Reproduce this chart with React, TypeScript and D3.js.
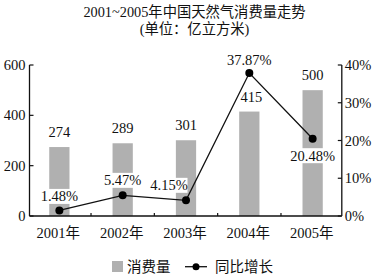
import React from "react";
import * as d3 from "d3";

const categories = ["2001年", "2002年", "2003年", "2004年", "2005年"];
const consumption = [274, 289, 301, 415, 500];
const growth = [1.48, 5.47, 4.15, 37.87, 20.48];
const leftTicks = [0, 200, 400, 600];
const rightTicks = [0, 10, 20, 30, 40];
const title1 = "2001~2005年中国天然气消费量走势";
const title2 = "(单位：亿立方米)";
const legendBar = "消费量";
const legendLine = "同比增长";

// label placement offsets (style, not data)
const pctOffsets: [number, number][] = [
  [0, -14],
  [0, -15],
  [-17, -15],
  [0, -13],
  [0, 17],
];

const W = 377;
const H = 275;
const FONT = "\"Liberation Serif\", \"DejaVu Serif\", \"Noto Sans CJK SC\", serif";

export default function App() {
  const x = d3.scaleBand<string>().domain(categories).range([27.7, 344.3]).paddingInner(0.68).paddingOuter(0.34);
  const yL = d3.scaleLinear().domain([0, 600]).range([216, 65]);
  const yR = d3.scaleLinear().domain([0, 40]).range([216, 65]);
  const axL = 29.5;
  const axR = 341.8;
  const cx = (c: string) => (x(c) as number) + x.bandwidth() / 2;
  const step = x.step();
  const line = d3
    .line<number>()
    .x((_, i) => cx(categories[i]))
    .y((d) => yR(d));
  const fmtPct = (v: number) => v.toFixed(2) + "%";
  const boundaries = categories.slice(1).map((c) => (x(c) as number) - (step - x.bandwidth()) / 2);

  return (
    <svg
      width={W}
      height={H}
      style={{ position: "absolute", left: 0, top: 0, background: "#fff", fontFamily: FONT }}
    >
      <rect x={0} y={0} width={W} height={H} fill="#fff" />
      <text x={W / 2 + 6} y={17} textAnchor="middle" fontSize={14.3} fill="#111">
        {title1}
      </text>
      <text x={W / 2 + 6} y={34} textAnchor="middle" fontSize={14.3} fill="#111">
        {title2}
      </text>

      {/* bars */}
      {consumption.map((v, i) => (
        <rect
          key={"b" + i}
          x={x(categories[i])}
          y={yL(v)}
          width={x.bandwidth()}
          height={yL(0) - yL(v)}
          fill="#b0b0b0"
        />
      ))}
      {/* bar value labels */}
      {consumption.map((v, i) => (
        <text
          key={"bl" + i}
          x={cx(categories[i]) + (i === 3 ? 2 : 0)}
          y={yL(v) - 15}
          dy="0.35em"
          textAnchor="middle"
          fontSize={14.5}
          fill="#111"
        >
          {v}
        </text>
      ))}

      {/* axes */}
      <line x1={axL} x2={axL} y1={yL(600)} y2={yL(0)} stroke="#111" strokeWidth={1.3} />
      <line x1={axR} x2={axR} y1={yR(40)} y2={yR(0)} stroke="#111" strokeWidth={1.3} />
      <line x1={axL} x2={axR} y1={yL(0)} y2={yL(0)} stroke="#111" strokeWidth={1.3} />
      {leftTicks.map((t) => (
        <g key={"lt" + t}>
          <line x1={axL} x2={axL + 4} y1={yL(t)} y2={yL(t)} stroke="#111" strokeWidth={1.2} />
          <text x={axL - 4} y={yL(t)} dy="0.35em" textAnchor="end" fontSize={14.5} fill="#111">
            {t}
          </text>
        </g>
      ))}
      {rightTicks.map((t) => (
        <g key={"rt" + t}>
          <line x1={axR - 4} x2={axR} y1={yR(t)} y2={yR(t)} stroke="#111" strokeWidth={1.2} />
          <text x={axR + 3} y={yR(t)} dy="0.35em" textAnchor="start" fontSize={14.5} fill="#111">
            {t + "%"}
          </text>
        </g>
      ))}
      {boundaries.map((b, i) => (
        <line key={"xt" + i} x1={b} x2={b} y1={yL(0)} y2={yL(0) - 3} stroke="#111" strokeWidth={1.2} />
      ))}
      {categories.map((c) => (
        <text key={"xl" + c} x={cx(c) - 1} y={233} dy="0.35em" textAnchor="middle" fontSize={14.5} fill="#111">
          {c}
        </text>
      ))}

      {/* pct label backgrounds */}
      {growth.map((v, i) => {
        const lx = cx(categories[i]) + pctOffsets[i][0];
        const ly = yR(v) + pctOffsets[i][1];
        const w = fmtPct(v).length * 7.4;
        return i === 3 ? null : (
          <rect key={"pb" + i} x={lx - w / 2} y={ly - 7.5} width={w} height={15} fill="#fff" />
        );
      })}

      {/* line */}
      <path d={line(growth) || ""} fill="none" stroke="#111" strokeWidth={1.3} />
      {growth.map((v, i) => (
        <circle key={"p" + i} cx={cx(categories[i])} cy={yR(v)} r={4} fill="#000" />
      ))}
      {growth.map((v, i) => (
        <text
          key={"pl" + i}
          x={cx(categories[i]) + pctOffsets[i][0]}
          y={yR(v) + pctOffsets[i][1]}
          dy="0.35em"
          textAnchor="middle"
          fontSize={14.5}
          fill="#111"
        >
          {fmtPct(v)}
        </text>
      ))}

      {/* legend */}
      <rect x={112} y={261} width={11} height={11} fill="#b0b0b0" />
      <text x={127} y={266.7} dy="0.35em" fontSize={14.5} fill="#111">
        {legendBar}
      </text>
      <line x1={185} x2={207} y1={266.7} y2={266.7} stroke="#111" strokeWidth={1.3} />
      <circle cx={196} cy={266.7} r={3.5} fill="#000" />
      <text x={215} y={266.7} dy="0.35em" fontSize={14.5} fill="#111">
        {legendLine}
      </text>
    </svg>
  );
}
